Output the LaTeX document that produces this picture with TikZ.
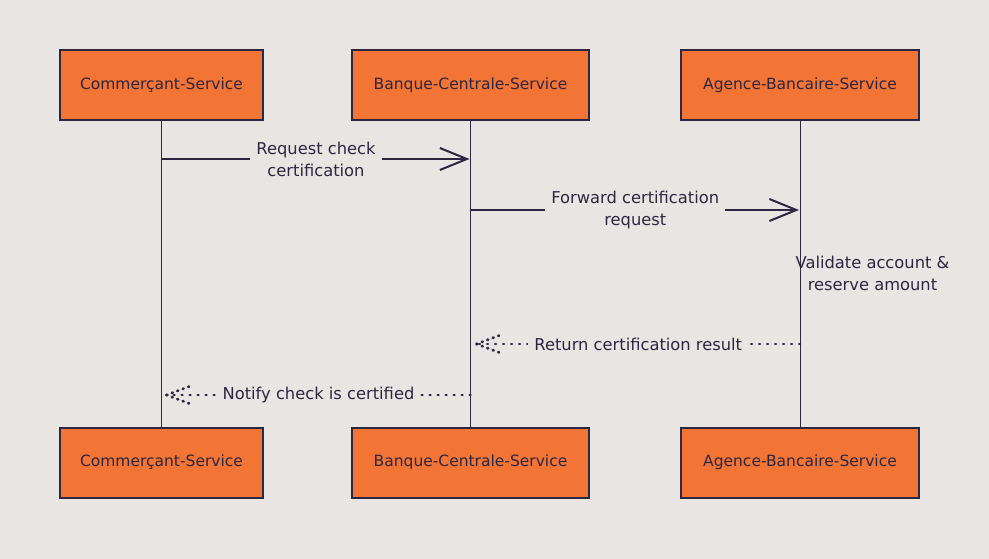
\documentclass[tikz,border=0pt]{standalone}
\usepackage{fontspec}
\setmainfont{DejaVu Sans}
\usetikzlibrary{arrows.meta}
\definecolor{bgc}{HTML}{E9E5E2}
\definecolor{svcfill}{HTML}{F27535}
\definecolor{ink}{HTML}{2D2640}
\def\barbs{[ink, line width=2.8pt, dash pattern=on 0.8pt off 5pt, line cap=round]}

\begin{document}
\begin{tikzpicture}[x=1pt, y=-1pt, every node/.style={text=ink, font=\fontsize{15.5}{22}\selectfont},
    svc/.style={rectangle, fill=svcfill, draw=ink, line width=2pt, minimum height=70pt, inner sep=0pt},
    life/.style={ink, line width=0.9pt},
    msg/.style={ink, line width=2pt, -{Straight Barb[length=27pt, width=22pt, line width=2pt]}},
    reply/.style={ink, line width=2.8pt, dash pattern=on 0.8pt off 7.2pt, line cap=round},
    lbl/.style={fill=bgc, align=center, inner xsep=6pt, inner ysep=1pt, font=\fontsize{16.3}{22}\selectfont}]
        \fill[bgc] (0,0) rectangle (989,559);
        \useasboundingbox (0,0) rectangle (989,559);
        % services, top and bottom
        \foreach \n/\x/\w/\t in {cs/161.5/203/Commerçant-Service, bcs/470.5/237/Banque-Centrale-Service, abs/800/238/Agence-Bancaire-Service}{
          \node[svc, minimum width=\w pt] (\n) at (\x,85) {\t};
          \node[svc, minimum width=\w pt] (\n b) at (\x,462.5) {\t};
        }
        \foreach \n in {cs,bcs,abs}{
          \draw[life] (\n) -- (\n b);
        }
        % message ends on the lifelines
        \coordinate (m1a) at (cs |- 0,159);
        \coordinate (m1b) at (bcs |- 0,159);
        \coordinate (m2a) at (bcs |- 0,210);
        \coordinate (m2b) at (abs |- 0,210);
        \coordinate (r1a) at (abs |- 0,344);
        \coordinate (r1b) at ([xshift=6pt]bcs |- 0,344);
        \coordinate (r2a) at (bcs |- 0,395);
        \coordinate (r2b) at ([xshift=5pt]cs |- 0,395);
        \draw[msg, shorten >=1pt] (m1a) -- node[lbl] (l1) {Request check\\certification} (m1b);
        \draw[msg, shorten >=1pt] (m2a) -- node[lbl] (l2) {Forward certification\\request} (m2b);
        \node[align=center, font=\fontsize{16.3}{22}\selectfont] (note) at (872.5,273) {Validate account \&\\reserve amount};
        \draw[reply] (r1a) -- node[lbl] (l3) {Return certification result} (r1b);
        \draw\barbs (r1b) -- ++(24,-9) (r1b) -- ++(24,9);
        \draw[reply] (r2a) -- node[lbl] (l4) {Notify check is certified} (r2b);
        \draw\barbs (r2b) -- ++(24,-9) (r2b) -- ++(24,9);
\end{tikzpicture}
\end{document}
